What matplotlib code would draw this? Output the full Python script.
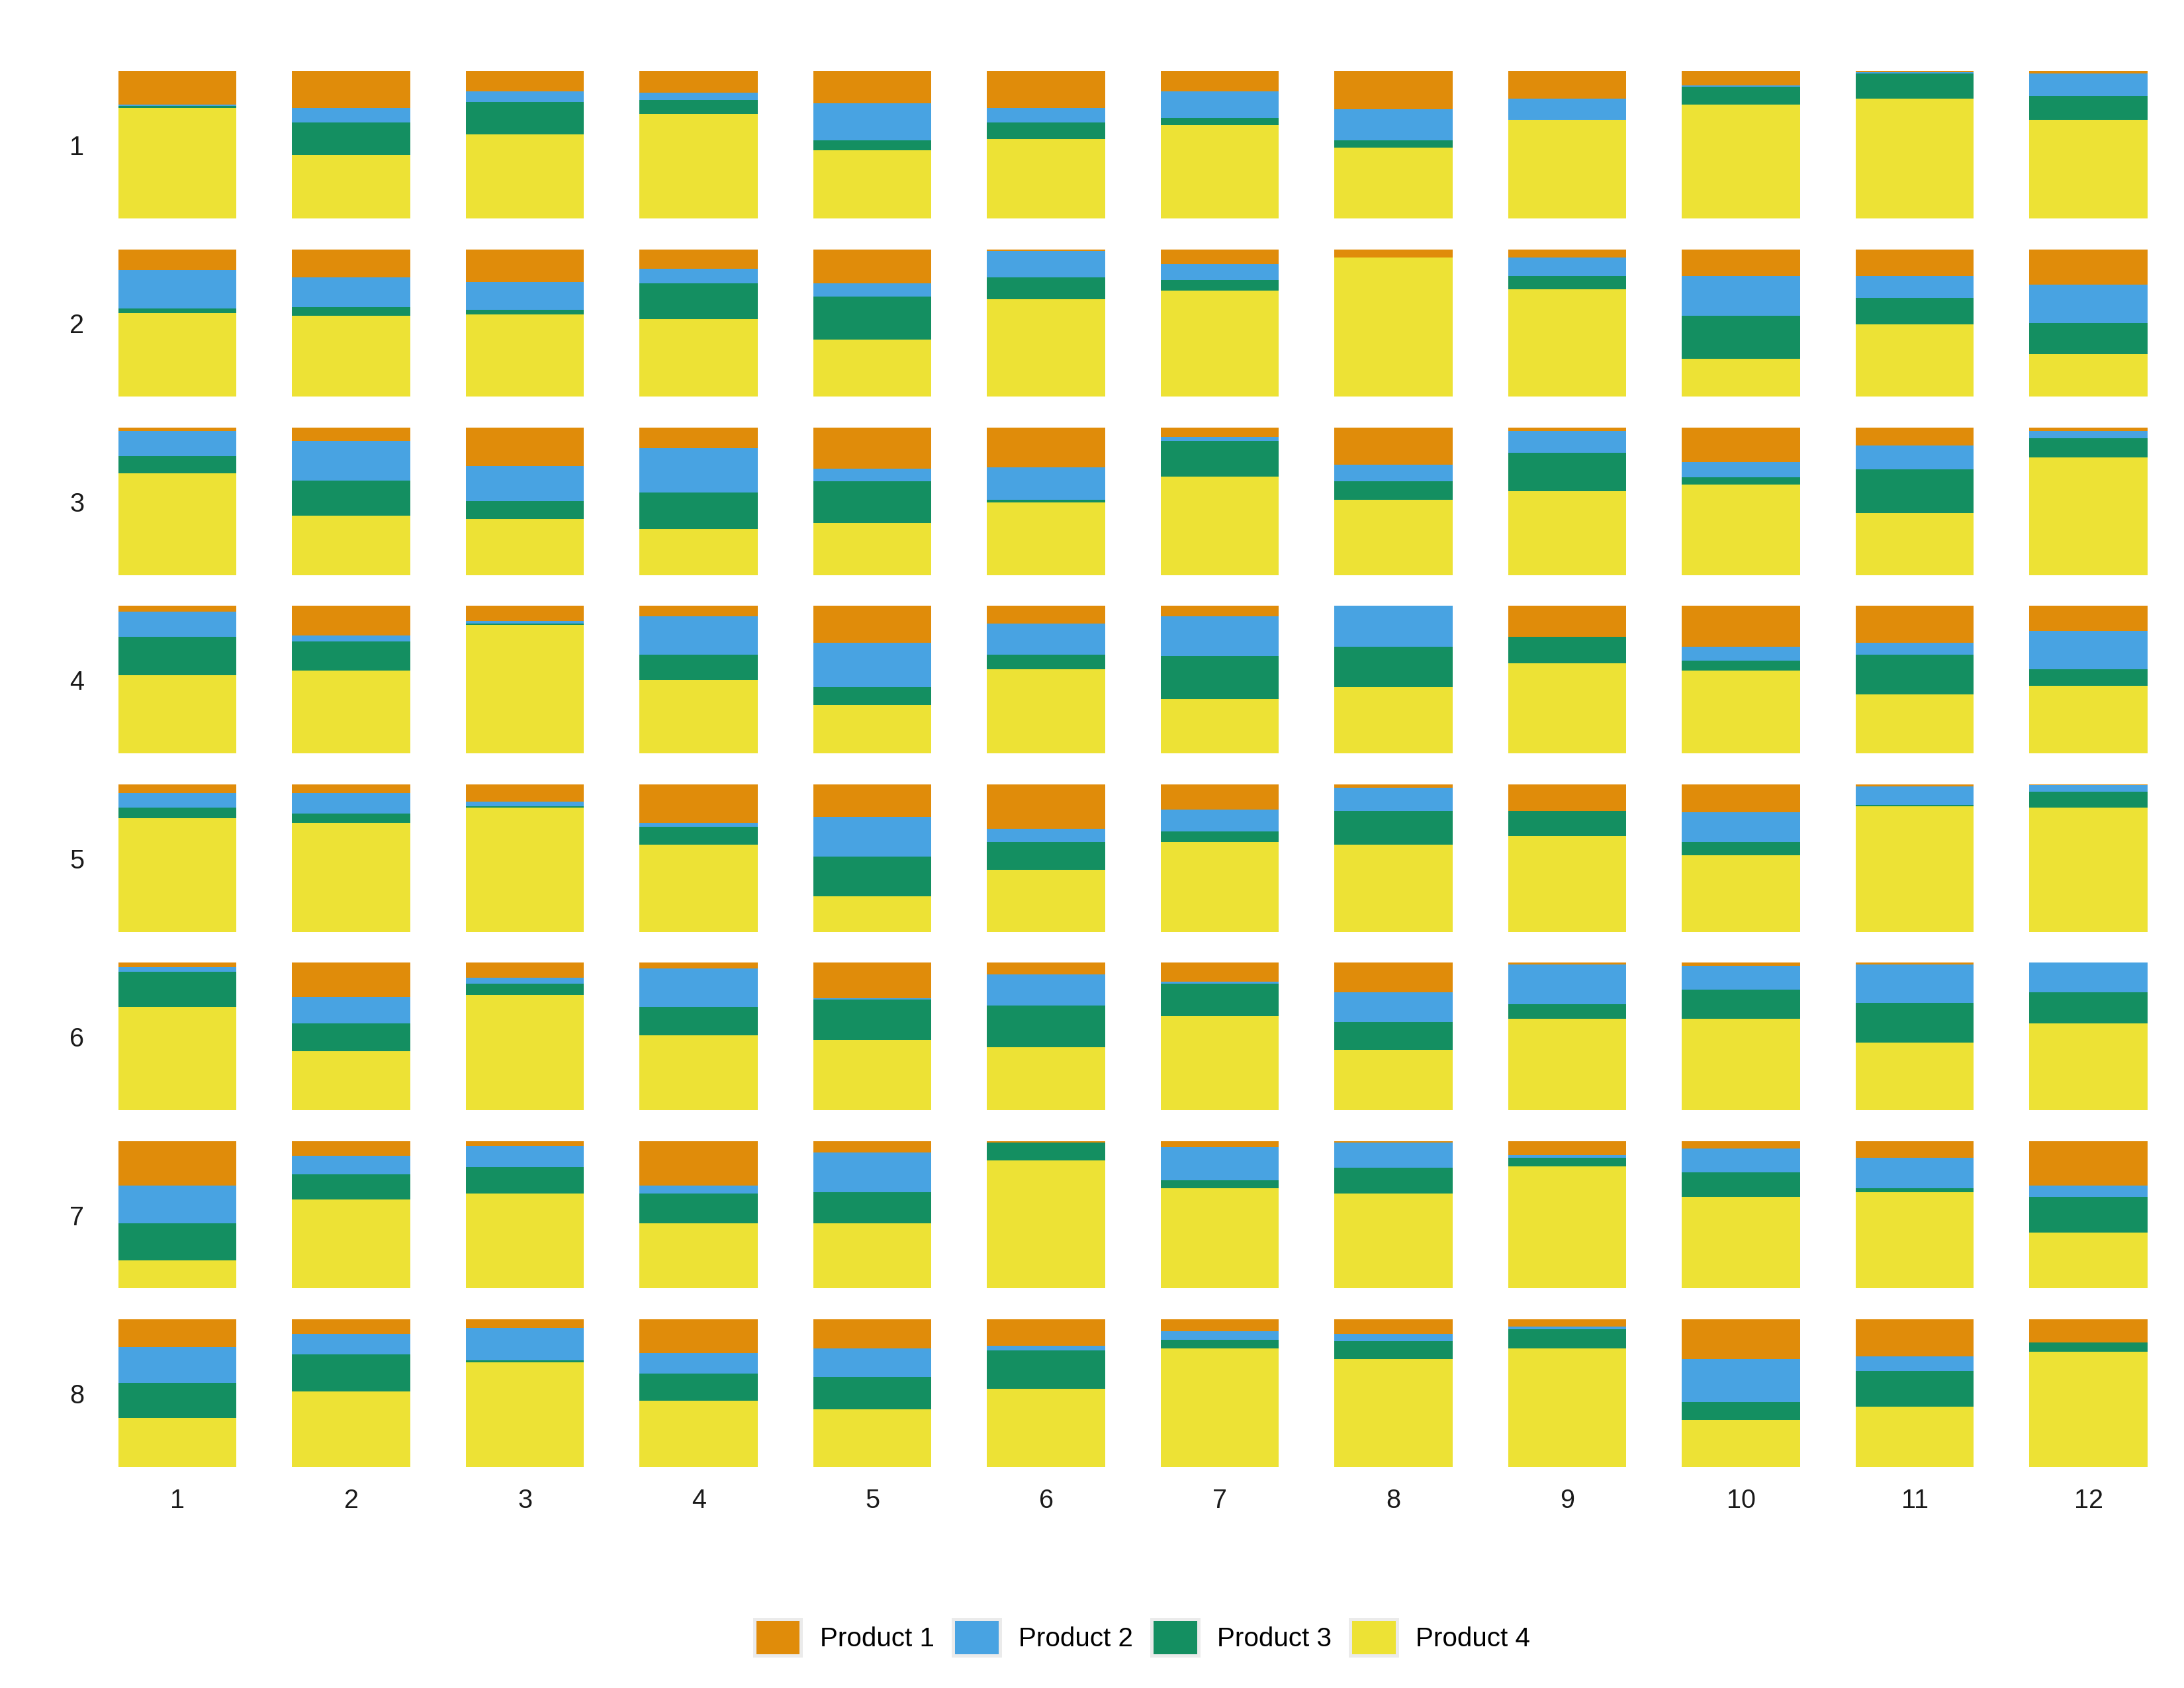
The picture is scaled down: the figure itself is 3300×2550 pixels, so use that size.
import numpy as np
import matplotlib
matplotlib.use("Agg")
import matplotlib.pyplot as plt
from matplotlib.patches import Patch

plt.rcParams['font.family'] = ['Liberation Sans', 'DejaVu Sans']

row_labels = ["1", "2", "3", "4", "5", "6", "7", "8"]
col_labels = ["1", "2", "3", "4", "5", "6", "7", "8", "9", "10", "11", "12"]
products = ["Product 1", "Product 2", "Product 3", "Product 4"]
colors = ["#E08C0A", "#48A3E2", "#148F61", "#EDE235"]

# shares in percent, one list per row (rows 1..8), columns 1..12
p1 = [
    [22.7, 25.1, 13.8, 14.6, 21.8, 25.1, 13.8, 26.0, 18.8, 9.9, 0.9, 1.8],
    [14.3, 19.0, 22.3, 13.4, 23.2, 1.2, 10.1, 5.4, 5.4, 18.2, 18.2, 24.1],
    [2.1, 8.9, 25.9, 13.7, 28.0, 27.1, 6.3, 25.0, 2.1, 23.2, 11.9, 2.1],
    [3.9, 20.0, 9.9, 7.2, 25.1, 12.0, 7.2, 0.0, 21.1, 27.8, 25.1, 17.0],
    [5.8, 5.8, 11.5, 25.9, 22.0, 30.0, 16.9, 2.5, 17.9, 18.7, 1.6, 0.7],
    [3.0, 23.2, 10.1, 3.9, 24.1, 8.0, 12.8, 19.9, 1.2, 2.1, 1.2, 0.0],
    [30.1, 9.8, 3.1, 30.1, 7.9, 0.9, 4.0, 0.9, 9.7, 4.9, 11.2, 30.1],
    [18.8, 9.9, 5.8, 22.9, 19.6, 17.8, 7.9, 9.7, 4.9, 26.8, 25.0, 15.7],
]
p2 = [
    [1.0, 9.9, 7.3, 5.1, 25.3, 9.9, 18.1, 21.1, 14.3, 0.9, 0.9, 15.2],
    [25.9, 20.2, 18.8, 9.8, 8.9, 18.0, 10.9, 0.0, 12.9, 26.9, 14.9, 25.9],
    [17.1, 27.2, 24.1, 30.5, 8.2, 22.0, 2.7, 11.2, 14.9, 10.7, 16.2, 5.1],
    [17.2, 4.2, 2.2, 26.0, 30.0, 21.2, 26.9, 27.8, 0.0, 9.4, 8.1, 26.0],
    [9.9, 13.9, 3.3, 2.8, 26.9, 9.0, 14.9, 15.4, 0.0, 20.3, 12.3, 4.2],
    [3.3, 17.9, 4.2, 26.0, 0.9, 21.0, 1.5, 20.2, 26.9, 16.2, 26.0, 20.1],
    [25.7, 12.9, 14.7, 5.7, 26.9, 0.0, 22.8, 17.0, 1.5, 16.1, 21.0, 7.9],
    [24.2, 13.9, 22.0, 13.9, 19.4, 3.3, 6.0, 5.1, 1.8, 29.3, 10.0, 0.0],
]
p3 = [
    [1.3, 22.0, 22.0, 9.4, 6.7, 11.2, 4.9, 4.9, 0.0, 12.1, 17.0, 16.1],
    [3.1, 5.8, 3.1, 24.1, 29.0, 14.7, 7.1, 0.0, 8.9, 29.0, 17.9, 21.0],
    [11.6, 23.7, 12.1, 24.6, 28.6, 1.8, 24.1, 12.9, 25.9, 4.9, 29.9, 12.9],
    [26.0, 19.7, 0.9, 17.0, 12.1, 9.9, 29.1, 27.4, 17.9, 6.7, 26.9, 11.2],
    [7.2, 6.3, 0.9, 12.1, 26.9, 18.8, 7.2, 22.9, 17.0, 9.0, 0.9, 10.8],
    [23.7, 18.8, 7.6, 19.2, 27.2, 28.1, 21.9, 18.8, 9.8, 19.6, 26.8, 21.0],
    [25.0, 17.0, 17.9, 20.1, 21.0, 12.1, 5.4, 17.9, 5.8, 17.0, 2.7, 24.1],
    [23.8, 25.1, 1.3, 18.4, 22.0, 26.0, 5.8, 12.1, 13.0, 12.1, 24.2, 6.3],
]
p4 = [
    [74.9, 43.0, 56.9, 70.9, 46.2, 53.8, 63.2, 48.0, 66.8, 77.1, 81.2, 66.8],
    [56.7, 54.9, 55.8, 52.7, 38.8, 66.1, 71.9, 94.6, 72.8, 25.9, 49.1, 29.0],
    [69.2, 40.2, 37.9, 31.2, 35.3, 49.1, 67.0, 50.9, 57.1, 61.2, 42.0, 79.9],
    [52.9, 56.1, 87.0, 49.8, 32.7, 57.0, 36.8, 44.8, 61.0, 56.1, 39.9, 45.7],
    [77.1, 74.0, 84.3, 59.2, 24.2, 42.2, 61.0, 59.2, 65.0, 52.0, 85.2, 84.3],
    [70.1, 40.2, 78.1, 50.9, 47.8, 42.9, 63.8, 41.1, 62.1, 62.1, 46.0, 58.9],
    [19.2, 60.3, 64.3, 44.2, 44.2, 87.1, 67.9, 64.3, 83.0, 62.1, 65.2, 37.9],
    [33.2, 51.1, 70.9, 44.8, 39.0, 52.9, 80.3, 73.1, 80.3, 31.8, 40.8, 78.0],
]


def main():
    data = np.array([p1, p2, p3, p4])          # product, row, col
    data = data / data.sum(axis=0, keepdims=True)

    nrows, ncols = len(row_labels), len(col_labels)
    fig, axes = plt.subplots(nrows, ncols, figsize=(11, 8.5), dpi=300,
                             gridspec_kw=dict(left=0.0542, right=0.9833,
                                              top=0.958, bottom=0.131,
                                              wspace=0.47, hspace=0.21))

    for r in range(nrows):
        for c in range(ncols):
            ax = axes[r, c]
            bottom = 0.0
            # stack from Product 4 at the bottom up to Product 1
            for k in [3, 2, 1, 0]:
                v = data[k, r, c]
                ax.bar(0, v, width=1.0, bottom=bottom, color=colors[k],
                       linewidth=0)
                bottom += v
            ax.set_xlim(-0.5, 0.5)
            ax.set_ylim(0, 1)
            ax.axis("off")
            if c == 0:
                ax.text(-0.35, 0.48, row_labels[r], transform=ax.transAxes,
                        ha="center", va="center", fontsize=9.5, color="#1a1a1a")
            if r == nrows - 1:
                ax.text(0.5, -0.23, col_labels[c], transform=ax.transAxes,
                        ha="center", va="center", fontsize=9.5, color="#1a1a1a")

    handles = [Patch(facecolor=colors[k], edgecolor="#ebebeb", linewidth=1.2,
                     label=products[k]) for k in range(4)]
    fig.legend(handles=handles, loc="center", bbox_to_anchor=(0.523, 0.030),
               ncol=4, frameon=False, fontsize=9.7, handlelength=1.75,
               handleheight=1.75, handletextpad=0.7, columnspacing=0.7)

    fig.savefig("out.png", dpi=300, facecolor="white")


if __name__ == "__main__":  main()
